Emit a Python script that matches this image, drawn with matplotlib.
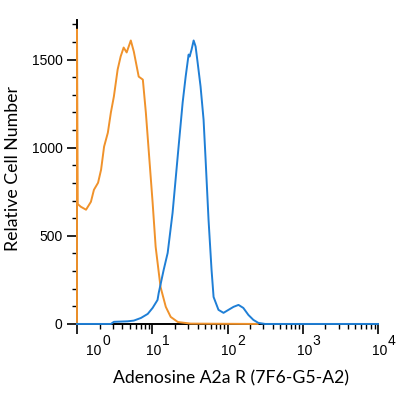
import matplotlib
matplotlib.use("Agg")
import matplotlib.pyplot as plt
import numpy as np

plt.rcParams['font.family'] = ['Lato', 'DejaVu Sans']

# isotype control (orange) -- x given in decades (log10 of intensity)
orange_log = [0.0, 0.0, 0.01, 0.05, 0.12, 0.185, 0.225, 0.28, 0.32, 0.36, 0.41, 0.45,
              0.49, 0.54, 0.58, 0.62, 0.66, 0.715, 0.755, 0.82, 0.875, 0.915, 0.955,
              1.005, 1.045, 1.11, 1.18, 1.245, 1.34, 1.51, 2.4]
orange_cnt = [0, 1670, 680, 665, 648, 693, 761, 801, 875, 1006, 1085, 1199,
              1290, 1443, 1517, 1568, 1540, 1608, 1545, 1403, 1386, 1199, 972,
              688, 438, 210, 97, 40, 11, 2, 0]

# Adenosine A2a R stained (blue)
blue_log = [0.0, 0.45, 0.49, 0.675, 0.755, 0.85, 0.94, 1.005, 1.07, 1.086, 1.152,
            1.205, 1.27, 1.31, 1.35, 1.404, 1.444, 1.483, 1.497, 1.523, 1.55,
            1.576, 1.603, 1.642, 1.682, 1.709, 1.748, 1.788, 1.815, 1.88, 1.947,
            2.013, 2.08, 2.146, 2.21, 2.278, 2.344, 2.41, 2.5, 4.0]
blue_cnt = [0, 0, 12, 15, 19, 34, 57, 91, 136, 176, 307,
            403, 630, 818, 1006, 1256, 1403, 1528, 1517, 1557, 1608,
            1574, 1483, 1347, 1159, 932, 591, 307, 153, 80, 63,
            80, 97, 108, 91, 51, 23, 6, 0, 0]

x_major = [1, 10, 100, 1000, 10000]
x_exp = ['0', '1', '2', '3', '4']
y_major = [0, 500, 1000, 1500]

fig = plt.figure(figsize=(4.0, 3.97), dpi=100)
ax = fig.add_axes([0.1925, 0.184, 0.7525, 0.766])

ax.plot(10 ** np.array(orange_log), orange_cnt, color='#F0922B', lw=1.4, clip_on=False, zorder=4)
ax.plot(10 ** np.array(blue_log), blue_cnt, color='#1F7FD6', lw=1.4, clip_on=False, zorder=5)

ax.set_xscale('log')
ax.set_xlim(1, 10000)
ax.set_ylim(0, 1725)

for s in ['top', 'right']:
    ax.spines[s].set_visible(False)
ax.spines['left'].set_linewidth(1.4)
ax.spines['bottom'].set_linewidth(1.4)

ax.set_xticks(x_major)
ax.set_xticklabels([])
ax.xaxis.set_minor_locator(matplotlib.ticker.LogLocator(base=10, subs=np.arange(2, 10)))
ax.xaxis.set_minor_formatter(matplotlib.ticker.NullFormatter())
ax.tick_params(axis='x', which='major', length=7.5, width=1.2)
ax.tick_params(axis='x', which='minor', length=3.5, width=1.0)

# decade labels: "10" with a full size raised exponent, as in the original
px = 0.72  # points per pixel at 100 dpi
for i, (xv, e) in enumerate(zip(x_major, x_exp)):
    dx = 17 if i == 0 else 1.5
    ax.annotate('10', xy=(xv, 0), xycoords=('data', 'axes fraction'),
                xytext=(dx * px, -31 * px), textcoords='offset points',
                ha='center', va='baseline', fontsize=10, family='Liberation Sans')
    ax.annotate(e, xy=(xv, 0), xycoords=('data', 'axes fraction'),
                xytext=((dx + 8.5) * px, -21 * px), textcoords='offset points',
                ha='left', va='baseline', fontsize=10, family='Liberation Sans')

ax.set_yticks(y_major)
ax.set_yticks(np.arange(0, 1800, 100), minor=True)
ax.set_yticklabels([str(v) for v in y_major], fontsize=10, family='Liberation Sans')
ax.tick_params(axis='y', which='major', length=7.5, width=1.2, pad=3)
ax.tick_params(axis='y', which='minor', length=3.5, width=1.0)

ax.set_xlabel('Adenosine A2a R (7F6-G5-A2)', fontsize=12.7, va='center')
ax.xaxis.set_label_coords(0.513, -54 / 304)
ax.set_ylabel('Relative Cell Number', fontsize=12.8, va='center')
ax.yaxis.set_label_coords(-64 / 301, 0.51)

fig.savefig('out.png', dpi=100)
